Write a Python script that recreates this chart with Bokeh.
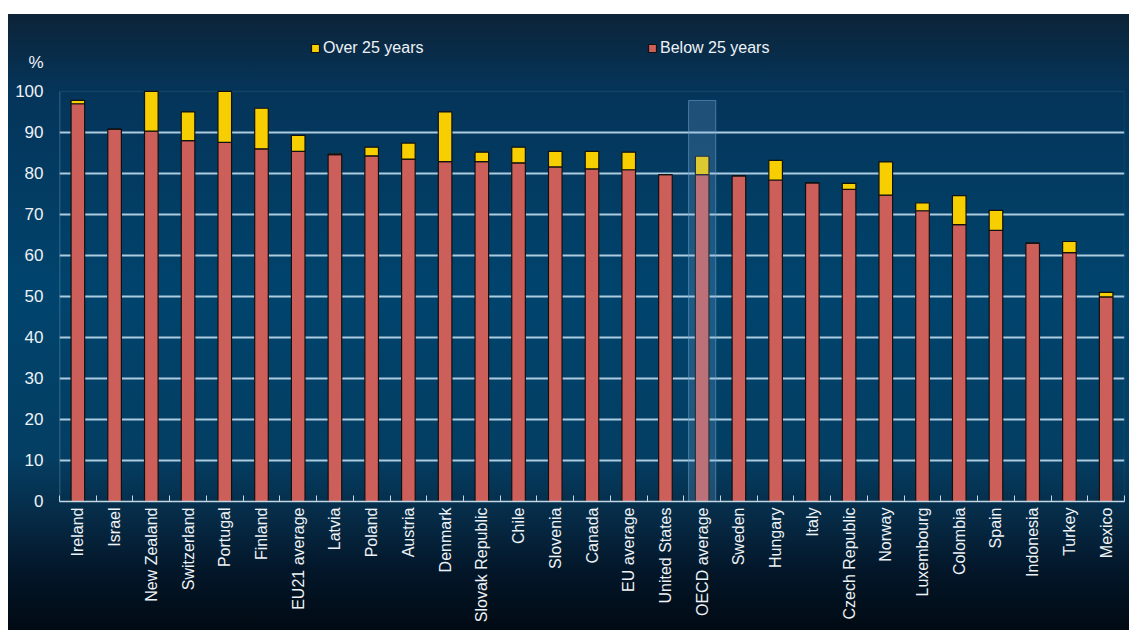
import math
from bokeh.plotting import figure
from bokeh.models import (ColumnDataSource, FixedTicker, Range1d, Legend, LegendItem,
                          BoxAnnotation)
from bokeh.embed import file_html
from bokeh.resources import INLINE

categories = ["Ireland", "Israel", "New Zealand", "Switzerland", "Portugal", "Finland",
              "EU21 average", "Latvia", "Poland", "Austria", "Denmark", "Slovak Republic",
              "Chile", "Slovenia", "Canada", "EU average", "United States", "OECD average",
              "Sweden", "Hungary", "Italy", "Czech Republic", "Norway", "Luxembourg",
              "Colombia", "Spain", "Indonesia", "Turkey", "Mexico"]
below_25 = [97.0, 90.8, 90.3, 88.0, 87.6, 86.0, 85.4, 84.6, 84.3, 83.5, 82.9, 82.9,
            82.6, 81.6, 81.1, 80.9, 79.7, 79.7, 79.4, 78.4, 77.7, 76.1, 74.7, 70.9,
            67.5, 66.1, 63.0, 60.7, 49.9]
over_25 = [0.8, 0.0, 9.7, 7.0, 12.4, 9.9, 3.9, 0.2, 2.1, 3.9, 12.1, 2.3,
           3.8, 3.8, 4.3, 4.3, 0.0, 4.5, 0.0, 4.8, 0.0, 1.5, 8.1, 1.9,
           7.1, 4.9, 0.0, 2.7, 1.1]
y_ticks = [0, 10, 20, 30, 40, 50, 60, 70, 80, 90, 100]
unit_label = "%"
highlight = "OECD average"
highlight_top = 97.8

n = len(categories)
xs = list(range(n))
src = ColumnDataSource(dict(x=xs, below=below_25, over=over_25))

y_top = 117.3          # headroom above 100 for legend / unit label
unit_pos = 107.1       # vertical position of the unit label

p = figure(width=1129, height=630, output_backend="svg", toolbar_location=None,
           title_location=None,
           x_range=Range1d(-0.5, n - 0.5), y_range=Range1d(0, y_top),
           min_border_left=59, min_border_right=5, min_border_top=20, min_border_bottom=129)
p.background_fill_alpha = 0
p.border_fill_alpha = 0
p.outline_line_color = None
p.styles = {"background": "linear-gradient(to bottom, #0c2337 0%, #053459 12%, #00446d 45%, #043e63 72%, #062a45 82%, #03172a 90%, #010a13 100%) 8px 14px / 1121px 616px no-repeat, #ffffff"}

p.xgrid.grid_line_color = None
p.ygrid.ticker = FixedTicker(ticks=y_ticks[1:-1])
p.ygrid.grid_line_color = "#aecce0"
p.ygrid.grid_line_width = 2

# plot frame (dim) from 0 to 100 and light left axis line
p.add_layout(BoxAnnotation(left=-0.5, right=n - 0.5, bottom=y_ticks[0], top=y_ticks[-1],
                           fill_alpha=0, line_color="#3a6680", line_width=1.5, level="underlay"))
p.add_layout(BoxAnnotation(left=-0.5, right=-0.5, bottom=y_ticks[0], top=y_ticks[-1],
                           fill_alpha=0, line_color="#c4d6e2", line_width=1.5, level="underlay"))

rs = p.vbar_stack(["below", "over"], x="x", width=0.37, source=src,
                  color=["#cc5f5a", "#f7cf00"], line_color="#111111", line_width=1.2)

hi = categories.index(highlight)
p.quad(left=[hi - 0.37], right=[hi + 0.37], bottom=[0], top=[highlight_top],
       fill_color="#7fb2e0", fill_alpha=0.22, line_color="#6a9cc8", line_alpha=0.6, line_width=1)

# axes
ax = p.xaxis[0]
ax.ticker = FixedTicker(ticks=xs, minor_ticks=[i - 0.5 for i in range(n + 1)])
ax.major_label_overrides = {i: c for i, c in enumerate(categories)}
ax.major_label_orientation = math.pi / 2
ax.major_tick_in = 0
ax.major_tick_out = 0
ax.minor_tick_in = 6
ax.minor_tick_out = 0
ax.minor_tick_line_color = "#c4d6e2"
ax.axis_line_color = "#c4d6e2"
ax.axis_line_width = 1.5
ax.major_label_text_color = "#eef2f6"
ax.major_label_text_font = "Liberation Sans"
ax.major_label_text_font_size = "16px"
ax.major_label_standoff = 6

ay = p.yaxis[0]
ay.ticker = FixedTicker(ticks=y_ticks + [unit_pos])
ay.major_label_overrides = {unit_pos: unit_label}
ay.major_tick_in = 0
ay.major_tick_out = 0
ay.minor_tick_in = 0
ay.minor_tick_out = 0
ay.axis_line_color = None
ay.major_label_text_color = "#eef2f6"
ay.major_label_text_font = "Liberation Sans"
ay.major_label_text_font_size = "17px"
ay.major_label_standoff = 16

for item_label, rend, loc in [("Over 25 years", rs[1], (251, 444)),
                              ("Below 25 years", rs[0], (588, 444))]:
    lg = Legend(items=[LegendItem(label=item_label, renderers=[rend])], location=loc,
                glyph_width=10, glyph_height=10, label_standoff=3, padding=0, margin=0,
                border_line_color=None, background_fill_alpha=0,
                label_text_color="#eef2f6", label_text_font="Liberation Sans",
                label_text_font_size="16px")
    p.add_layout(lg, "center")

open("out.html", "w").write(file_html(p, INLINE))
